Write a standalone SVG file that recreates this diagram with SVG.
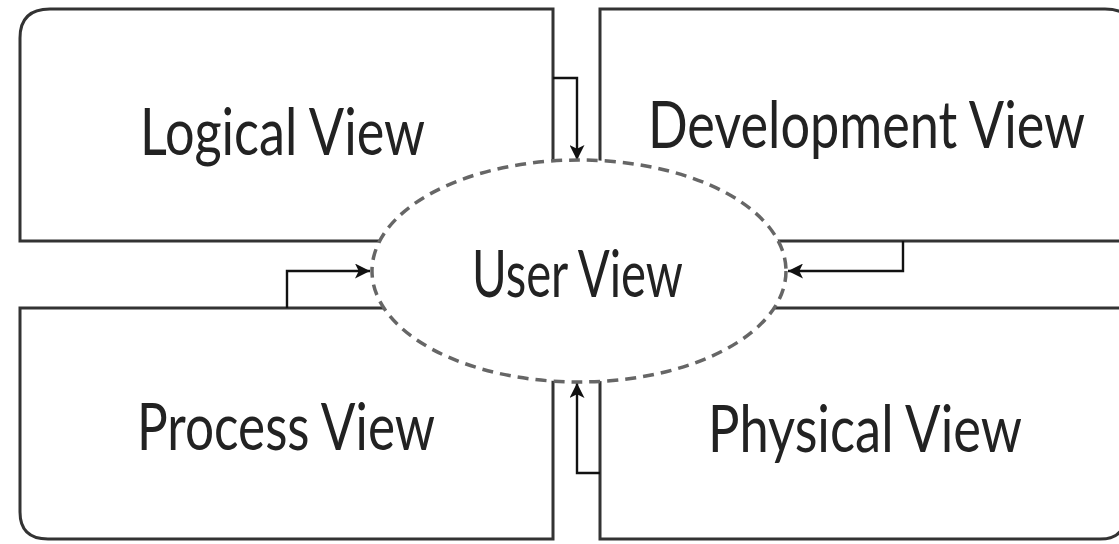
<svg xmlns="http://www.w3.org/2000/svg" width="1119" height="544" viewBox="0 0 1119 544">
<style>
.box{fill:#fff;stroke:#333;stroke-width:3}
.lbl{font-family:Lato,"Open Sans","Liberation Sans",sans-serif;font-size:65px;fill:#222}
.conn{fill:none;stroke:#111;stroke-width:2.4}
.ell{fill:#fff;stroke:#666;stroke-width:3.5;stroke-dasharray:11 7}
</style>
<defs>
<marker id="ahb" viewBox="0 0 10 10" refX="10" refY="5" markerWidth="17" markerHeight="15" markerUnits="userSpaceOnUse" orient="auto">
<path d="M0,0 L10,5 L0,10 L2.5,5 z" fill="#111"/>
</marker>
</defs>
<rect width="1119" height="544" fill="#fff"/>
<g id="logical">
<path class="box" d="M20,241 V38 Q20,9 50,9 H553 V241 Z"/>
<text class="lbl" x="140" y="155" textLength="285" lengthAdjust="spacingAndGlyphs">Logical View</text>
</g>
<g id="development">
<path class="box" d="M600,241 V9 H1105 Q1135,9 1135,39 V241 Z"/>
<text class="lbl" x="648" y="148" textLength="437" lengthAdjust="spacingAndGlyphs">Development View</text>
</g>
<g id="process">
<path class="box" d="M20,308 V512 Q20,539 48,539 H553 V308 Z"/>
<text class="lbl" x="137" y="450" textLength="298" lengthAdjust="spacingAndGlyphs">Process View</text>
</g>
<g id="physical">
<path class="box" d="M600,308 V539 H1100 Q1125,539 1125,515 V308 Z"/>
<text class="lbl" x="708" y="452" textLength="314" lengthAdjust="spacingAndGlyphs">Physical View</text>
</g>
<g id="connectors">
<path class="conn" d="M553,78 H577 V160" marker-end="url(#ahb)"/>
<path class="conn" d="M287,308 V271 H370" marker-end="url(#ahb)"/>
<path class="conn" d="M903,241 V271 H788" marker-end="url(#ahb)"/>
<path class="conn" d="M600,473 H577 V383" marker-end="url(#ahb)"/>
</g>
<g id="user">
<ellipse class="ell" cx="579" cy="271" rx="207" ry="111"/>
<text class="lbl" x="472" y="297" textLength="211" lengthAdjust="spacingAndGlyphs">User View</text>
</g>
</svg>
